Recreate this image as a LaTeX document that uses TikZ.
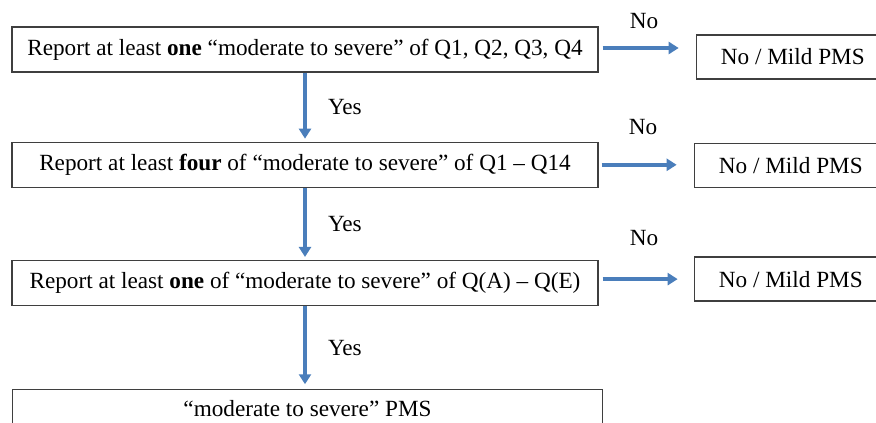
\documentclass[tikz,border=0pt]{standalone}
\usepackage{fontspec}
\setmainfont{Liberation Serif}[Ligatures=TeX]
\newfontfamily\timesfont{Liberation Serif}
\usetikzlibrary{positioning,arrows.meta}
\definecolor{flowblue}{HTML}{4A7EBB}
\definecolor{boxgray}{HTML}{3F3F3F}

\begin{document}
\begin{tikzpicture}[x=1pt, y=-1pt, >={Triangle[width=12pt,length=10pt]},
	font=\timesfont\fontsize{23.2}{27}\selectfont]
		
		% Styles
		\tikzstyle{block} = [draw=boxgray, line width=1.3pt, align=center, inner sep=0pt, minimum width=586pt, minimum height=45pt];
		\tikzstyle{outcome} = [draw=boxgray, line width=1.3pt, align=center, inner sep=0pt, minimum width=193pt, minimum height=44pt];
		\tikzstyle{flow} = [->, draw=flowblue, line width=4pt];
		\tikzstyle{lbl} = [inner sep=0pt];
		
		\clip (0,0) rectangle (876,423);
		
		% Nodes
		\node[block] (q1) at (305,49.5)
		{Report at least \textbf{one} “moderate to severe” of Q1, Q2, Q3, Q4};
		
		\node[block, below=69pt of q1] (q2)
		{Report at least \textbf{four} of “moderate to severe” of Q1 – Q14};
		
		\node[block, below=72pt of q2] (q3)
		{Report at least \textbf{one} of “moderate to severe” of Q(A) – Q(E)};
		
		% last box runs off the bottom edge, so no bottom line
		\node[inner sep=0pt, minimum width=590pt, minimum height=38pt, below=83pt of q3, xshift=2.5pt] (pms)
		{“moderate to severe” PMS};
		\draw[boxgray, line width=1.3pt] (pms.south west) |- (pms.north east) -- (pms.south east);
		
		\node[outcome, right=97pt of q1, yshift=-7.5pt] (mild1) {No / Mild PMS};
		\node[outcome, right=95pt of q2, yshift=-1pt] (mild2) {No / Mild PMS};
		\node[outcome, right=95pt of q3, yshift=4pt] (mild3) {No / Mild PMS};
		
		% Arrows
		\draw[flow, shorten >=3pt] (q1.south) -- (q2.north)
			node[lbl, midway, right=21pt] {Yes};
		\draw[flow, shorten >=3pt] (q2.south) -- (q3.north)
			node[lbl, midway, right=21pt] {Yes};
		\draw[flow, shorten >=5pt] (q3.south) -- (q3.south |- pms.north)
			node[lbl, midway, right=21pt] {Yes};
		
		\draw[flow, shorten <=4pt, shorten >=17pt] ([yshift=1.5pt]q1.east) -- ([yshift=1.5pt]q1.east -| mild1.west)
			node[lbl, midway, xshift=-3pt, yshift=27pt] {No};
		\draw[flow, shorten <=3pt, shorten >=17pt] (q2.east) -- (q2.east -| mild2.west)
			node[lbl, midway, xshift=-3pt, yshift=38pt] {No};
		\draw[flow, shorten <=4pt, shorten >=16pt] (q3.east |- mild3.west) -- (mild3.west)
			node[lbl, midway, xshift=-2pt, yshift=41pt] {No};
		
	\end{tikzpicture}
\end{document}
